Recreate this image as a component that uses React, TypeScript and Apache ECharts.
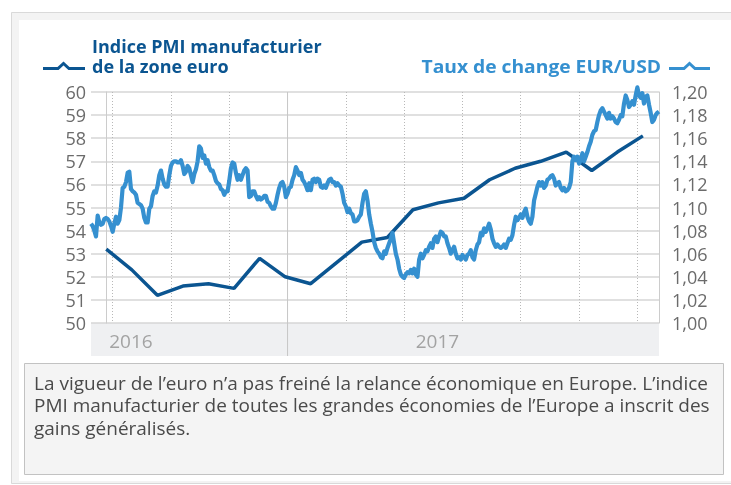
import React, { useEffect, useRef } from 'react';
import * as echarts from 'echarts';

// PMI manufacturier zone euro (mensuel, déc. 2015 → sept. 2017)
const pmiMonths = ['2015-12', '2016-01', '2016-02', '2016-03', '2016-04', '2016-05', '2016-06', '2016-07', '2016-08', '2016-09', '2016-10', '2016-11', '2016-12', '2017-01', '2017-02', '2017-03', '2017-04', '2017-05', '2017-06', '2017-07', '2017-08', '2017-09'];
const pmiValues = [53.2, 52.3, 51.2, 51.6, 51.7, 51.5, 52.8, 52.0, 51.7, 52.6, 53.5, 53.7, 54.9, 55.2, 55.4, 56.2, 56.7, 57.0, 57.4, 56.6, 57.4, 58.1];

// Taux de change EUR/USD (échantillon régulier, janv. 2016 → sept. 2017)
const eurUsd = [
  1.086, 1.084, 1.080, 1.075, 1.093, 1.087, 1.085, 1.086, 1.090, 1.091,
  1.090, 1.088, 1.084, 1.079, 1.086, 1.092, 1.086, 1.089, 1.100, 1.117,
  1.118, 1.122, 1.130, 1.131, 1.116, 1.114, 1.113, 1.111, 1.104, 1.103,
  1.102, 1.099, 1.091, 1.087, 1.087, 1.099, 1.101, 1.110, 1.114, 1.113,
  1.119, 1.128, 1.132, 1.125, 1.120, 1.118, 1.118, 1.128, 1.136, 1.139,
  1.140, 1.140, 1.139, 1.139, 1.141, 1.136, 1.129, 1.131, 1.136, 1.134,
  1.128, 1.122, 1.129, 1.133, 1.140, 1.153, 1.151, 1.143, 1.145, 1.138,
  1.141, 1.135, 1.132, 1.132, 1.128, 1.123, 1.121, 1.120, 1.116, 1.115,
  1.111, 1.114, 1.114, 1.123, 1.134, 1.139, 1.138, 1.130, 1.124, 1.128,
  1.124, 1.128, 1.132, 1.134, 1.132, 1.109, 1.110, 1.114, 1.114, 1.110,
  1.107, 1.109, 1.107, 1.108, 1.110, 1.110, 1.105, 1.104, 1.101, 1.099,
  1.099, 1.104, 1.111, 1.117, 1.121,
  1.122, 1.118, 1.109, 1.112, 1.117, 1.118, 1.124, 1.128, 1.135, 1.132,
  1.128, 1.130, 1.124, 1.122, 1.119, 1.115, 1.121, 1.115, 1.124, 1.125,
  1.122, 1.125, 1.124, 1.118, 1.117, 1.119, 1.117, 1.121, 1.124, 1.125,
  1.122, 1.122, 1.119, 1.121, 1.119, 1.118, 1.112, 1.104, 1.101, 1.096,
  1.099, 1.095, 1.094, 1.088, 1.088, 1.089, 1.092, 1.094, 1.104, 1.112,
  1.114, 1.106, 1.094, 1.086, 1.079, 1.070, 1.065, 1.062, 1.060, 1.057,
  1.056,
  1.062, 1.060, 1.065, 1.069, 1.073, 1.078, 1.069, 1.060, 1.055, 1.047,
  1.042, 1.040, 1.039, 1.042, 1.044, 1.043, 1.046, 1.043, 1.047, 1.042,
  1.040, 1.055, 1.060, 1.056, 1.059, 1.063, 1.062, 1.066, 1.069, 1.065,
  1.073, 1.075, 1.070, 1.075, 1.079, 1.078, 1.075, 1.075, 1.069, 1.065,
  1.060, 1.063, 1.066, 1.060, 1.056, 1.057, 1.055, 1.059, 1.057, 1.055,
  1.059, 1.060, 1.063, 1.057, 1.055, 1.063, 1.068, 1.070,
  1.078, 1.076, 1.082, 1.079, 1.082, 1.086, 1.081, 1.073, 1.069, 1.066,
  1.068, 1.066, 1.065, 1.066, 1.068, 1.065, 1.069, 1.073, 1.072, 1.076,
  1.085, 1.092, 1.089, 1.091, 1.094, 1.091, 1.096, 1.099, 1.092, 1.088,
  1.086, 1.092, 1.106, 1.112, 1.118, 1.122, 1.119, 1.122, 1.117, 1.119,
  1.124, 1.125, 1.127, 1.128, 1.125, 1.119, 1.121, 1.122, 1.117, 1.115,
  1.117, 1.114, 1.115, 1.117,
  1.122, 1.140, 1.144, 1.141, 1.144, 1.138, 1.141, 1.147, 1.140, 1.144,
  1.148, 1.153, 1.157, 1.163, 1.166, 1.167, 1.174, 1.180, 1.184, 1.186,
  1.183, 1.180, 1.177, 1.182, 1.177, 1.179, 1.177, 1.174, 1.173, 1.176,
  1.180, 1.179, 1.190, 1.197, 1.193, 1.187, 1.189, 1.192, 1.189, 1.197,
  1.204, 1.197, 1.195, 1.199, 1.190, 1.196, 1.197, 1.189, 1.182, 1.174,
  1.176, 1.180, 1.182, 1.183,
];

// Repères verticaux (indices d'échantillon) et libellés d'années
const gridTickIndices = [13, 48, 83, 153, 188, 223, 258, 293, 328];
const yearDividerIndex = 118;
const yearLabelIndices = [24, 208];
const yearLabels = ['2016', '2017'];

const legendPmi = ['Indice PMI manufacturier', 'de la zone euro'];
const legendEur = 'Taux de change EUR/USD';
const captionLines = [
  'La vigueur de l’euro n’a pas freiné la relance économique en Europe. L’indice',
  'PMI manufacturier de toutes les grandes économies de l’Europe a inscrit des',
  'gains généralisés.',
];

const DARK = '#0b5591';
const LIGHT = '#3590d0';
const GRID = { left: 91, top: 92, width: 568, height: 231 };
const BAND_H = 33;

export default function App() {
  const ref = useRef<HTMLDivElement>(null);

  useEffect(() => {
    if (!ref.current) return;
    const chart = echarts.init(ref.current, undefined, { renderer: 'svg' });
    const option: any = {
      animation: false,
      grid: { ...GRID, containLabel: false },
      xAxis: [
        {
          type: 'category',
          data: eurUsd.map((_, i) => String(i)),
          boundaryGap: false,
          axisLine: { show: false },
          axisTick: { show: false },
          axisLabel: {
            interval: (i: number) => yearLabelIndices.includes(i),
            formatter: (v: string) => {
              const k = yearLabelIndices.indexOf(Number(v));
              return k >= 0 ? yearLabels[k] : '';
            },
            color: '#a3a3a3',
            fontSize: 19,
            fontFamily: 'Open Sans',
            margin: 8,
          },
          splitLine: {
            show: true,
            interval: (i: number) => gridTickIndices.includes(i),
            lineStyle: { color: '#b8b8b8', type: [1, 2], width: 1 },
          },
        },
        { type: 'value', min: -0.598, max: 21.63, show: false },
      ],
      yAxis: [
        {
          type: 'value', min: 50, max: 60, interval: 1, position: 'left',
          axisLine: { show: true, lineStyle: { color: '#cccccc', width: 1 } },
          axisTick: { show: false },
          axisLabel: { color: '#6b6b6b', fontSize: 18, fontFamily: 'Open Sans', margin: 5 },
          splitLine: { show: true, lineStyle: { color: '#d6d6d6', width: 1.5 } },
        },
        {
          type: 'value', min: 1, max: 1.2, interval: 0.02, position: 'right',
          axisLine: { show: true, lineStyle: { color: '#cccccc', width: 1 } },
          axisTick: { show: false },
          axisLabel: {
            color: '#6b6b6b', fontSize: 18, fontFamily: 'Open Sans', margin: 13,
            formatter: (v: number) => v.toFixed(2).replace('.', ','),
          },
          splitLine: { show: false },
        },
      ],
      series: [
        {
          type: 'line', name: 'PMI', xAxisIndex: 1, yAxisIndex: 0,
          data: pmiValues.map((v, m) => [m, v]),
          symbol: 'none', lineStyle: { color: DARK, width: 3.5 }, z: 3,
        },
        {
          type: 'line', name: 'EUR/USD', xAxisIndex: 0, yAxisIndex: 1,
          data: eurUsd, symbol: 'none', clip: false,
          lineStyle: { color: LIGHT, width: 4.2, join: 'round' }, z: 4,
        },
      ],
    };
    chart.setOption(option);

    let divX = chart.convertToPixel({ xAxisIndex: 0 }, yearDividerIndex) as number;
    if (typeof divX !== 'number' || isNaN(divX)) {
      divX = GRID.left + (yearDividerIndex / (eurUsd.length - 1)) * GRID.width;
    }
    const bottom = GRID.top + GRID.height;

    chart.setOption({
      graphic: [
        { type: 'rect', silent: true, z: -20, shape: { x: 11.5, y: 12.5, width: 740, height: 471 }, style: { fill: '#f3f3f3', stroke: '#d9d9d9', lineWidth: 1 } },
        { type: 'rect', silent: true, z: -19, shape: { x: 19, y: 20, width: 730, height: 461 }, style: { fill: '#ffffff' } },
        { type: 'rect', silent: true, z: -18, shape: { x: GRID.left, y: bottom, width: GRID.width, height: BAND_H }, style: { fill: '#eff0f2' } },
        { type: 'line', silent: true, z: 1, shape: { x1: divX, y1: GRID.top, x2: divX, y2: bottom + BAND_H }, style: { stroke: '#c6c6c6', lineWidth: 1 } },
        { type: 'text', silent: true, x: 92, y: 36, style: { text: legendPmi.join('\n'), fill: DARK, fontSize: 18, fontWeight: 'bold', fontFamily: 'Open Sans', lineHeight: 20, align: 'left', verticalAlign: 'top' } },
        { type: 'text', silent: true, x: 661, y: 56, scaleX: 1.07, style: { text: legendEur, fill: LIGHT, fontSize: 18, fontWeight: 'bold', fontFamily: 'Open Sans', lineHeight: 20, align: 'right', verticalAlign: 'top' } },
        { type: 'polyline', silent: true, shape: { points: [[43, 68.5], [58, 68.5], [63.5, 63.5], [69, 68.5], [85, 68.5]] }, style: { stroke: DARK, lineWidth: 3, fill: null } },
        { type: 'polyline', silent: true, shape: { points: [[669, 68.5], [684, 68.5], [689.5, 63.5], [695, 68.5], [710, 68.5]] }, style: { stroke: LIGHT, lineWidth: 3, fill: null } },
        { type: 'rect', silent: true, z: -17, shape: { x: 24.5, y: 363.5, width: 699, height: 111 }, style: { fill: '#f4f4f4', stroke: '#c2c2c2', lineWidth: 1 } },
        { type: 'text', silent: true, x: 34, y: 371, scaleX: 1.055, style: { text: captionLines.join('\n'), fill: '#4a4a4a', fontSize: 18, fontFamily: 'Open Sans', lineHeight: 22.5, align: 'left', verticalAlign: 'top' } },
      ],
    });

    return () => chart.dispose();
  }, []);

  return <div ref={ref} style={{ position: 'fixed', left: 0, top: 0, width: 731, height: 485 }} />;
}
